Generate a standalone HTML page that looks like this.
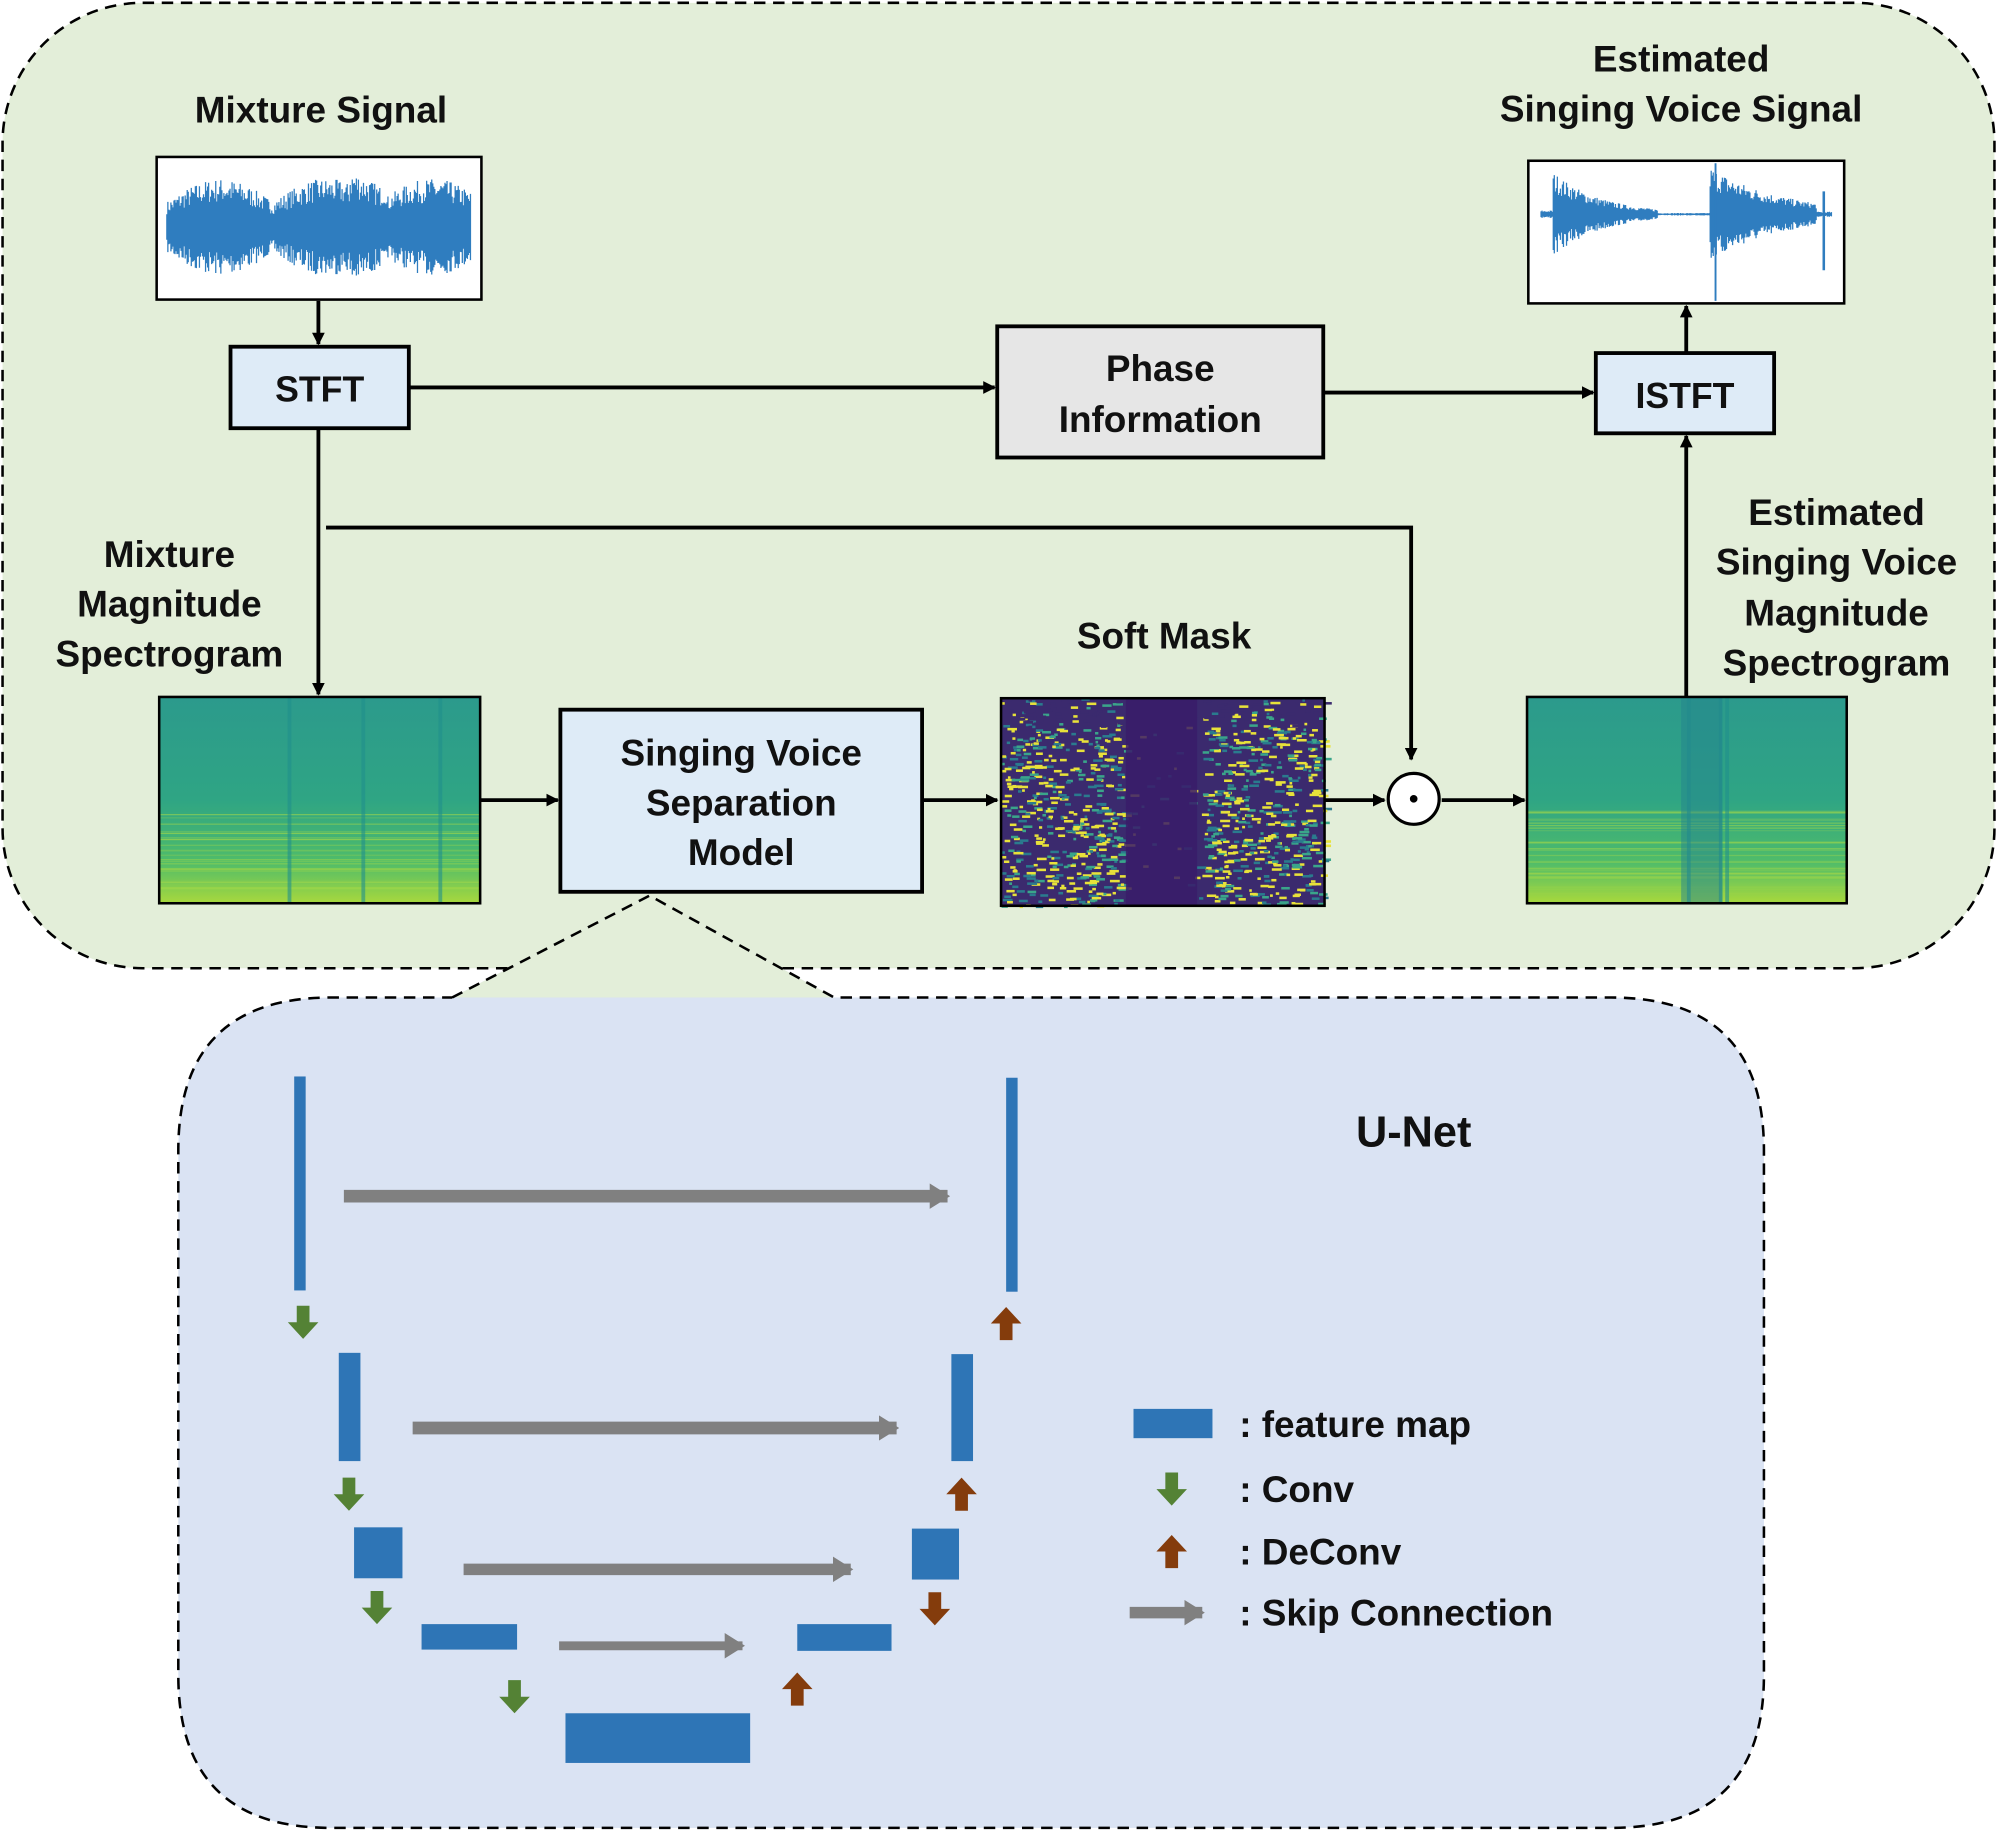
<!DOCTYPE html>
<html><head><meta charset="utf-8"><style>
html,body{margin:0;padding:0;background:#fff;}
svg{display:block;}
text{font-family:"Liberation Sans",sans-serif;font-weight:bold;fill:#111;}
</style></head><body>
<svg id="s" width="1997" height="1832" viewBox="0 0 1568 1438" xmlns="http://www.w3.org/2000/svg">
<defs>
<marker id="ah" markerWidth="10" markerHeight="10" refX="9" refY="5" orient="auto" markerUnits="userSpaceOnUse" viewBox="0 0 10 10"><path d="M0,0 L10,5 L0,10 z" fill="#000"/></marker>
<marker id="ag" markerWidth="16" markerHeight="20" refX="14" refY="10" orient="auto" markerUnits="userSpaceOnUse" viewBox="0 0 16 20"><path d="M0,0 L16,10 L0,20 z" fill="#808080"/></marker>
<linearGradient id="spec" x1="0" y1="0" x2="0" y2="1">
<stop offset="0" stop-color="#2c9a8c"/><stop offset="0.5" stop-color="#2fa584"/><stop offset="0.8" stop-color="#4fbc6a"/><stop offset="1" stop-color="#a8d83c"/></linearGradient>
</defs>
<rect x="2" y="2" width="1564" height="758" rx="110" fill="#e3eed9" stroke="#000" stroke-width="2" stroke-dasharray="9,6"/>
<path d="M260,783 L355,783 L510,703 L655,783 L1265,783 Q1385,783 1385,903 L1385,1315 Q1385,1435 1265,1435 L260,1435 Q140,1435 140,1315 L140,903 Q140,783 260,783 Z" fill="#dae3f3"/>
<path d="M355,783 L510,703 L655,783 Z" fill="#e3eed9"/>
<path d="M355,783 L510,703 L655,783 L1265,783 Q1385,783 1385,903 L1385,1315 Q1385,1435 1265,1435 L260,1435 Q140,1435 140,1315 L140,903 Q140,783 260,783 L355,783" fill="none" stroke="#000" stroke-width="2" stroke-dasharray="9,6"/>

<text x="252" y="96" font-size="29" text-anchor="middle">Mixture Signal</text>
<text x="1320" y="56" font-size="29" text-anchor="middle">Estimated</text>
<text x="1320" y="95" font-size="29" text-anchor="middle">Singing Voice Signal</text>
<text x="133" y="445" font-size="29" text-anchor="middle">Mixture</text>
<text x="133" y="484" font-size="29" text-anchor="middle">Magnitude</text>
<text x="133" y="523" font-size="29" text-anchor="middle">Spectrogram</text>
<text x="914" y="509" font-size="29" text-anchor="middle">Soft Mask</text>
<text x="1442" y="412" font-size="29" text-anchor="middle">Estimated</text>
<text x="1442" y="451" font-size="29" text-anchor="middle">Singing Voice</text>
<text x="1442" y="491" font-size="29" text-anchor="middle">Magnitude</text>
<text x="1442" y="530" font-size="29" text-anchor="middle">Spectrogram</text>

<rect x="123" y="123" width="255" height="112" fill="#fff" stroke="#000" stroke-width="2"/>
<g id="w1"></g>
<rect x="1200" y="126" width="248" height="112" fill="#fff" stroke="#000" stroke-width="2"/>
<g id="w2"></g>

<rect x="181" y="272" width="140" height="64" fill="#deebf7" stroke="#000" stroke-width="3"/>
<text x="251" y="315" font-size="28" text-anchor="middle">STFT</text>
<rect x="783" y="256" width="256" height="103" fill="#e6e6e6" stroke="#000" stroke-width="3"/>
<text x="911" y="299" font-size="29" text-anchor="middle">Phase</text>
<text x="911" y="339" font-size="29" text-anchor="middle">Information</text>
<rect x="1253" y="277" width="140" height="63" fill="#deebf7" stroke="#000" stroke-width="3"/>
<text x="1323" y="320" font-size="28" text-anchor="middle">ISTFT</text>
<rect x="440" y="557" width="284" height="143" fill="#deebf7" stroke="#000" stroke-width="3"/>
<text x="582" y="601" font-size="29" text-anchor="middle">Singing Voice</text>
<text x="582" y="640" font-size="29" text-anchor="middle">Separation</text>
<text x="582" y="679" font-size="29" text-anchor="middle">Model</text>

<rect x="125" y="547" width="252" height="162" fill="url(#spec)"/>
<g id="sp1"></g>
<rect x="125" y="547" width="252" height="162" fill="none" stroke="#000" stroke-width="2"/>
<rect x="786" y="548" width="254" height="163" fill="#3b2a6e"/>
<g id="sm"></g>
<rect x="786" y="548" width="254" height="163" fill="none" stroke="#000" stroke-width="2"/>
<rect x="1199" y="547" width="251" height="162" fill="url(#spec)"/>
<g id="sp2"></g>
<rect x="1199" y="547" width="251" height="162" fill="none" stroke="#000" stroke-width="2"/>

<g stroke="#000" stroke-width="3" fill="none">
<line x1="250" y1="236" x2="250" y2="270" marker-end="url(#ah)"/>
<line x1="321" y1="304" x2="781" y2="304" marker-end="url(#ah)"/>
<line x1="1039" y1="308" x2="1251" y2="308" marker-end="url(#ah)"/>
<line x1="1324" y1="277" x2="1324" y2="240" marker-end="url(#ah)"/>
<line x1="250" y1="336" x2="250" y2="545" marker-end="url(#ah)"/>
<polyline points="256,414 1108,414 1108,596" marker-end="url(#ah)"/>
<line x1="377" y1="628" x2="438" y2="628" marker-end="url(#ah)"/>
<line x1="724" y1="628" x2="783" y2="628" marker-end="url(#ah)"/>
<line x1="1040" y1="628" x2="1087" y2="628" marker-end="url(#ah)"/>
<line x1="1132" y1="628" x2="1197" y2="628" marker-end="url(#ah)"/>
<line x1="1324" y1="547" x2="1324" y2="342" marker-end="url(#ah)"/>
</g>
<circle cx="1110" cy="627" r="20" fill="#fff" stroke="#000" stroke-width="2.5"/>
<circle cx="1110" cy="627" r="3" fill="#000"/>

<g fill="#2e75b6">
<rect x="231" y="845" width="9" height="168"/>
<rect x="790" y="846" width="9" height="168"/>
<rect x="266" y="1062" width="17" height="85"/>
<rect x="747" y="1063" width="17" height="84"/>
<rect x="278" y="1199" width="38" height="40"/>
<rect x="716" y="1200" width="37" height="40"/>
<rect x="331" y="1275" width="75" height="20"/>
<rect x="626" y="1275" width="74" height="21"/>
<rect x="444" y="1345" width="145" height="39"/>
<rect x="890" y="1106" width="62" height="23"/>
</g>
<g stroke="#808080" fill="none">
<line x1="270" y1="939" x2="744" y2="939" stroke-width="10" marker-end="url(#ag)"/>
<line x1="324" y1="1121" x2="704" y2="1121" stroke-width="10" marker-end="url(#ag)"/>
<line x1="364" y1="1232" x2="668" y2="1232" stroke-width="9" marker-end="url(#ag)"/>
<line x1="439" y1="1292" x2="583" y2="1292" stroke-width="7" marker-end="url(#ag)"/>
<line x1="887" y1="1266" x2="944" y2="1266" stroke-width="9" marker-end="url(#ag)"/>
</g>
<g id="arrs"></g>
<text x="1110" y="900" font-size="34" text-anchor="middle">U-Net</text>
<text x="973" y="1128" font-size="29">: feature  map</text>
<text x="973" y="1179" font-size="29">: Conv</text>
<text x="973" y="1228" font-size="29">: DeConv</text>
<text x="973" y="1276" font-size="29">: Skip  Connection</text>
</svg>
<script>
var NS="http://www.w3.org/2000/svg";
var seed=7;function r(){seed=(seed*16807)%2147483647;return seed/2147483647;}
function el(p,t,a){var e=document.createElementNS(NS,t);for(var k in a)e.setAttribute(k,a[k]);p.appendChild(e);return e;}
function wave(id,x0,x1,cy,env){var g=document.getElementById(id);var d="";for(var x=x0;x<=x1;x+=0.8){var a=env((x-x0)/(x1-x0))*(0.5+0.5*r());d+="M"+x.toFixed(1)+","+(cy-a).toFixed(1)+"V"+(cy+a).toFixed(1);}el(g,"path",{d:d,stroke:"#2f7dbf","stroke-width":"1",fill:"none"});}
wave("w1",131,370,178,function(t){return 20+18*Math.abs(Math.sin(t*9))+ (t>0.6&&t<0.72?12:0);});
wave("w2",1210,1438,168,function(t){if(t<0.04)return 3;if(t<0.4)return Math.max(1,30*Math.exp(-(t-0.06)*6));if(t<0.58)return 1;if(t<0.95)return Math.max(1,38*Math.exp(-(t-0.58)*4));return 2;});
el(document.getElementById("w2"),"line",{x1:1347,y1:128,x2:1347,y2:236,stroke:"#2f7dbf","stroke-width":"1.5"});
el(document.getElementById("w2"),"line",{x1:1432,y1:150,x2:1432,y2:212,stroke:"#2f7dbf","stroke-width":"2"});
function spec(id,x,y,w,h,cols){var g=document.getElementById(id);for(var i=0;i<30;i++){var yy=y+h*0.55+r()*h*0.45;el(g,"rect",{x:x,y:yy.toFixed(1),width:w,height:1,fill:"#9fd64a",opacity:(0.2+0.4*r()).toFixed(2)});}
cols.forEach(function(c){el(g,"rect",{x:x+c*w,y:y,width:3,height:h,fill:"#1f8f8c",opacity:0.6});});}
spec("sp1",125,547,252,162,[0.4,0.63,0.87]);
spec("sp2",1199,547,251,162,[0.5,0.6,0.62]);
el(document.getElementById("sp2"),"rect",{x:1320,y:547,width:32,height:162,fill:"#24838e",opacity:0.5});
(function(){var g=document.getElementById("sm");for(var i=0;i<1400;i++){var x=786+r()*254;var y=548+r()*163;var t=(x-786)/254;if(t>0.38&&t<0.62&&r()<0.85)continue;var cl=r()<0.5?"#e8e23a":(r()<0.5?"#3aa58a":"#2a7b8e");if(y<570&&r()<0.6)cl="#3b2a6e";el(g,"rect",{x:x.toFixed(1),y:y.toFixed(1),width:(2+r()*6).toFixed(1),height:2,fill:cl});}
el(g,"rect",{x:884,y:548,width:56,height:163,fill:"#3a1c6a",opacity:0.85});})();
function barr(x,y,down,col){var g=document.getElementById("arrs");var d=down?"M"+(x-5)+","+y+"h10v13h7l-12,13l-12,-13h7z":"M"+(x-5)+","+(y+26)+"h10v-13h7l-12,-13l-12,13h7z";el(g,"path",{d:d,fill:col});}
var G="#548235",B="#843c0c";
barr(238,1025,1,G);barr(274,1160,1,G);barr(296,1249,1,G);barr(404,1319,1,G);barr(920,1156,1,G);
barr(790,1026,0,B);barr(755,1160,0,B);barr(626,1313,0,B);barr(734,1250,1,B);barr(920,1205,0,B);
</script>
</body></html>
